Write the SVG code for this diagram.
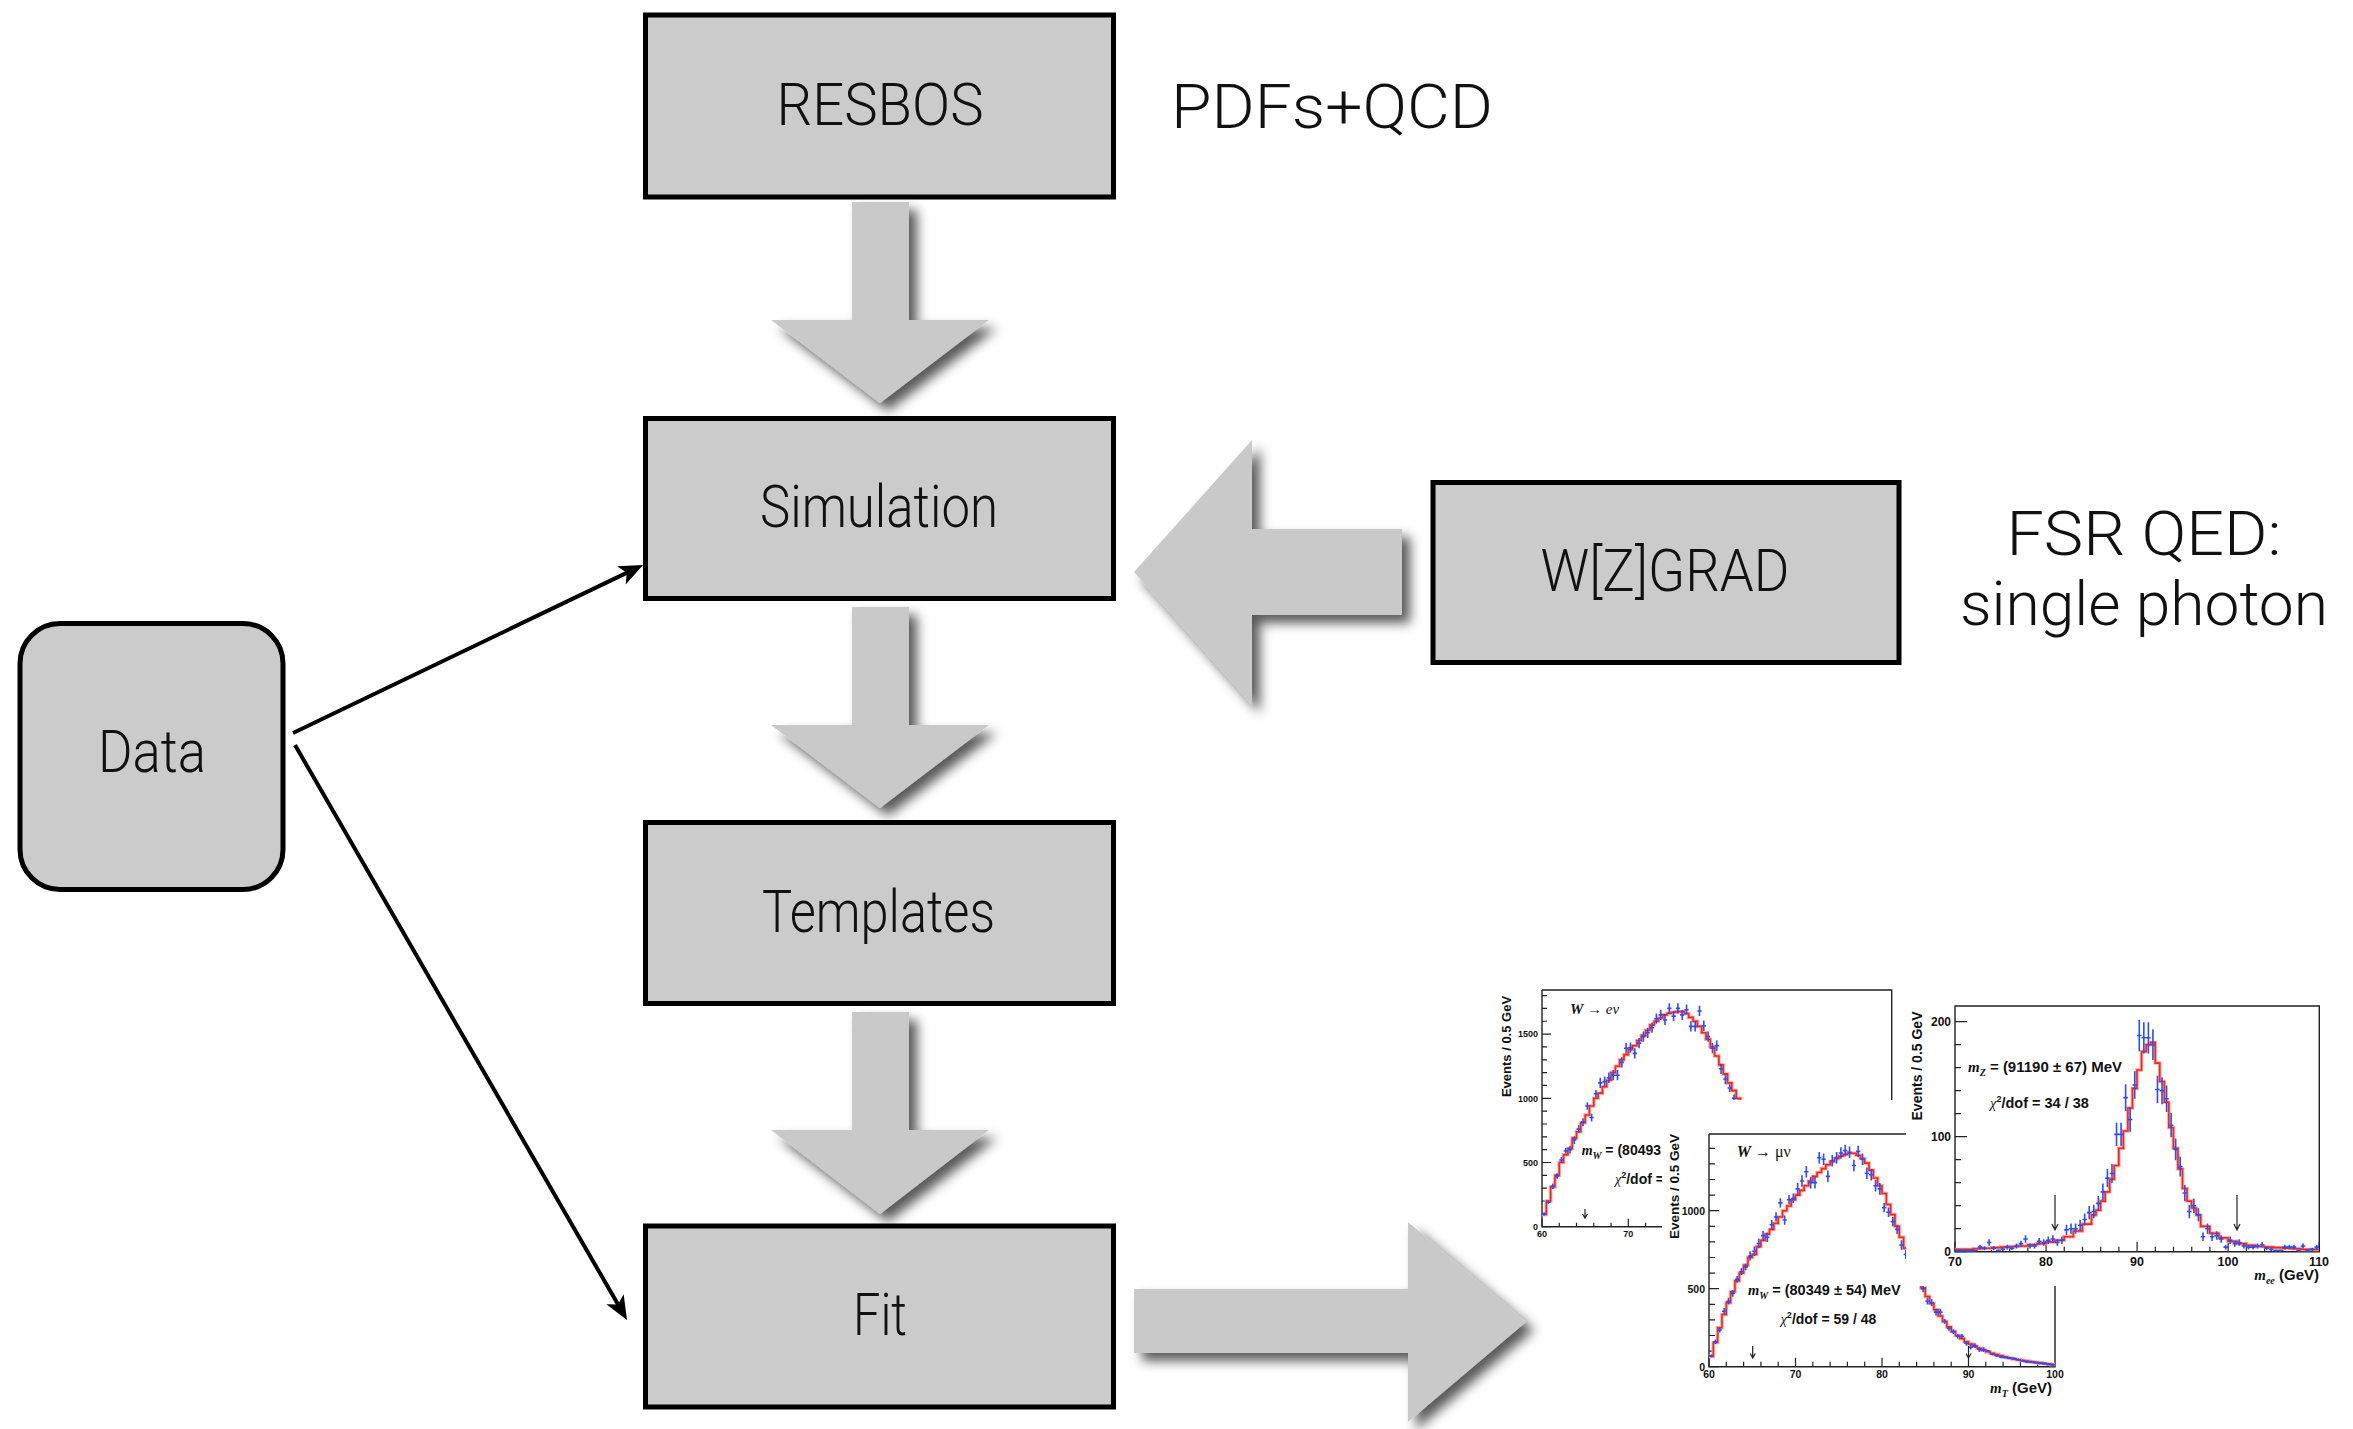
<svg xmlns="http://www.w3.org/2000/svg" width="2353" height="1429" viewBox="0 0 2353 1429">
  <defs>
    <style>
      .box { fill:#cbcbcb; stroke:#000; stroke-width:5; }
      .lbl { font-family:Roboto,'Liberation Sans',sans-serif; font-weight:300; font-size:60px; text-anchor:middle; fill:#111; }
      .side { font-family:Roboto,'Liberation Sans',sans-serif; font-weight:300; font-size:62px; fill:#111; }
      .blk { fill:#c9c9c9; filter:url(#shadow); }
      .conn { stroke:#000; stroke-width:4; fill:none; marker-end:url(#ah); }
      .ax { stroke:#222; stroke-width:1.4; fill:none; }
      .tk { stroke:#222; stroke-width:1.2; fill:none; }
      .halo { stroke:#ffa8a0; stroke-width:3.5; fill:none; vector-effect:non-scaling-stroke; }
      .hist { stroke:#f2261a; stroke-width:1.6; fill:none; vector-effect:non-scaling-stroke; }
      .pts { stroke:#2b4cff; stroke-width:1.6; fill:none; vector-effect:non-scaling-stroke; }
      .pt { font-family:'Liberation Sans',Arial,sans-serif; font-weight:bold; fill:#111; }
      .it { font-family:'Liberation Serif','Times New Roman',serif; font-style:italic; }
      .num { font-family:'Liberation Sans',Arial,sans-serif; font-weight:bold; fill:#111; }
    </style>
    <filter id="shadow" x="-20%" y="-20%" width="150%" height="150%">
      <feDropShadow dx="8" dy="8" stdDeviation="6" flood-color="#000" flood-opacity="0.65"/>
    </filter>
    <marker id="ah" markerUnits="userSpaceOnUse" markerWidth="40" markerHeight="40" refX="0" refY="0" orient="auto" overflow="visible">
      <path d="M6,0 L-18,-10 L-12,0 L-18,10 Z" fill="#000"/>
    </marker>
  </defs>

  <rect x="0" y="0" width="2353" height="1429" fill="#fff"/>

  <!-- result plots: W->e nu, W->mu nu, Z->ee -->
  <g id="plots">
    <!-- W -> e nu -->
    <g id="plot-wenu">
      <path class="ax" d="M1542 990V1226.7H1662M1542 990H1891.7V1101"/>
      <path class="tk" d="M1542 1226.7h9m-9-12.84h5m-5-12.84h5m-5-12.84h5m-5-12.84h5m-5-12.84h9m-9-12.84h5m-5-12.84h5m-5-12.84h5m-5-12.84h5m-5-12.84h9m-9-12.84h5m-5-12.84h5m-5-12.84h5m-5-12.84h5m-5-12.84h9m-9-12.84h5m-5-12.84h5m-5-12.84h5"/>
      <path class="tk" d="M1542 1226.7v-8m17.26 8v-4m17.26 4v-4m17.26 4v-4m17.26 4v-4m17.26 4v-8m17.26 8v-4m17.26 4v-4"/>
      <g transform="translate(1542,1226.7) scale(8.63,-0.1284)">
        <path class="halo" vector-effect="non-scaling-stroke" d="M0 95H.5V200H1V310H1.5V400H2V500H2.5V560H3V610H3.5V690H4V740H4.5V810H5V870H5.5V940H6V1000H6.5V1040H7V1090H7.5V1140H8V1200H8.5V1250H9V1300H9.5V1340H10V1380H10.5V1410H11V1450H11.5V1490H12V1530H12.5V1570H13V1600H13.5V1625H14V1650H14.5V1662H15V1670H15.5V1675H16.5V1660H17V1630H17.5V1600H18V1560H18.5V1510H19V1460H19.5V1400H20V1330H20.5V1260H21V1190H21.5V1120H22V1060H22.5V1000H23V940H23.5"/>
        <path class="hist" vector-effect="non-scaling-stroke" d="M0 95H.5V200H1V310H1.5V400H2V500H2.5V560H3V610H3.5V690H4V740H4.5V810H5V870H5.5V940H6V1000H6.5V1040H7V1090H7.5V1140H8V1200H8.5V1250H9V1300H9.5V1340H10V1380H10.5V1410H11V1450H11.5V1490H12V1530H12.5V1570H13V1600H13.5V1625H14V1650H14.5V1662H15V1670H15.5V1675H16.5V1660H17V1630H17.5V1600H18V1560H18.5V1510H19V1460H19.5V1400H20V1330H20.5V1260H21V1190H21.5V1120H22V1060H22.5V1000H23V940H23.5"/>
        <path class="pts" vector-effect="non-scaling-stroke" d="M.25 88v24M0 100h.5M.75 178v24M.5 190h.5M1.25 293v44M1 315h.5M1.75 373v44M1.5 395h.5M2.25 498v44M2 520h.5M2.75 568v44M2.5 590h.5M3.25 570v60M3 600h.5M3.75 645v60M3.5 675h.5M4.25 730v60M4 760h.5M4.75 785v60M4.5 815h.5M5.25 910v60M5 940h.5M5.75 820v60M5.5 850h.5M6.25 1005v60M6 1035h.5M6.75 1080v80M6.5 1120h.5M7.25 1090v80M7 1130h.5M7.75 1120v80M7.5 1160h.5M8.25 1140v80M8 1180h.5M8.75 1140v80M8.5 1180h.5M9.25 1240v80M9 1280h.5M9.75 1350v80M9.5 1390h.5M10.25 1355v80M10 1395h.5M10.75 1310v80M10.5 1350h.5M11.25 1390v80M11 1430h.5M11.75 1440v80M11.5 1480h.5M12.25 1470v80M12 1510h.5M12.75 1510v80M12.5 1550h.5M13.25 1580v80M13 1620h.5M13.75 1610v80M13.5 1650h.5M14.25 1570v80M14 1610h.5M14.75 1660v80M14.5 1700h.5M15.25 1600v80M15 1640h.5M15.75 1660v80M15.5 1700h.5M16.25 1610v80M16 1650h.5M16.75 1650v80M16.5 1690h.5M17.25 1520v80M17 1560h.5M17.75 1520v80M17.5 1560h.5M18.25 1640v80M18 1680h.5M18.75 1525v80M18.5 1565h.5M19.25 1440v80M19 1480h.5M19.75 1350v80M19.5 1390h.5M20.25 1370v80M20 1410h.5M20.75 1190v80M20.5 1230h.5M21.25 1110v80M21 1150h.5M21.75 1050v60M21.5 1080h.5M22.25 970v60M22 1000h.5M22.75 930v60M22.5 960h.5"/>
      </g>
      <g class="num" font-size="9" text-anchor="end">
        <text x="1538" y="1037">1500</text>
        <text x="1538" y="1101.5">1000</text>
        <text x="1538" y="1166">500</text>
        <text x="1538" y="1230">0</text>
      </g>
      <g class="num" font-size="9" text-anchor="middle">
        <text x="1542" y="1237">60</text>
        <text x="1628.3" y="1237">70</text>
      </g>
      <text class="pt" font-size="13" text-anchor="middle" transform="translate(1511,1046.5) rotate(-90)">Events / 0.5 GeV</text>
      <text x="1570" y="1014" font-size="15" class="it" fill="#111"><tspan font-weight="bold">W</tspan><tspan font-style="normal"> → </tspan><tspan>eν</tspan></text>
      <text x="1581.7" y="1155" class="pt" font-size="14"><tspan class="it">m</tspan><tspan class="it" font-size="10" dy="4">W</tspan><tspan dy="-4"> = (80493</tspan></text>
      <text x="1615" y="1184" class="pt" font-size="14"><tspan class="it" font-weight="normal">χ</tspan><tspan font-size="9" dy="-6">2</tspan><tspan dy="6">/dof =</tspan></text>
      <path class="tk" d="M1585 1209v9m-2.5-4l2.5 4 2.5-4"/>
    </g>

    <!-- W -> mu nu -->
    <g id="plot-wmunu">
      <rect x="1662" y="1100" width="420" height="329" fill="#fff"/>
      <path class="ax" d="M1709 1134V1366.7H2055V1134H1709"/>
      <path class="tk" d="M1709 1366.7h10m-10-15.6h6m-6-15.6h6m-6-15.6h6m-6-15.6h6m-6-15.6h10m-10-15.6h6m-6-15.6h6m-6-15.6h6m-6-15.6h6m-6-15.6h10m-10-15.6h6m-6-15.6h6m-6-15.6h6m-6-15.6h6"/>
      <path class="tk" d="M1709 1366.7v-9m17.3 9v-5m17.3 5v-5m17.3 5v-5m17.3 5v-5m17.3 5v-9m17.3 9v-5m17.3 5v-5m17.3 5v-5m17.3 5v-5m17.3 5v-9m17.3 9v-5m17.3 5v-5m17.3 5v-5m17.3 5v-5m17.3 5v-9m17.3 9v-5m17.3 5v-5m17.3 5v-5m17.3 5v-5"/>
      <g transform="translate(1709,1366.7) scale(8.65,-0.156)">
        <path class="halo" vector-effect="non-scaling-stroke" d="M0 65H.5V155H1V250H1.5V335H2V410H2.5V480H3V550H3.5V600H4V650H4.5V700H5V720H5.5V770H6V810H6.5V850H7V880H7.5V920H8V960H8.5V1000H9V1030H9.5V1070H10V1100H10.5V1130H11V1160H11.5V1190H12V1220H12.5V1245H13V1270H13.5V1295H14V1315H14.5V1335H15V1350H15.5V1360H16V1368H17V1355H17.5V1335H18V1305H18.5V1260H19V1210H19.5V1160H20V1110H20.5V1040H21V975H21.5V900H22V830H22.5V760H23V700H23.5V630H24V560H24.5V505H25V450H25.5V405H26V365H26.5V325H27V290H27.5V255H28V225H28.5V200H29V180H29.5V160H30V145H30.5V130H31V118H31.5V106H32V96H32.5V86H33V78H33.5V70H34V62H34.5V56H35V50H35.5V45H36V40H36.5V36H37V32H37.5V28H38V25H38.5V21H39V18H39.5V14H40"/>
        <path class="hist" vector-effect="non-scaling-stroke" d="M0 65H.5V155H1V250H1.5V335H2V410H2.5V480H3V550H3.5V600H4V650H4.5V700H5V720H5.5V770H6V810H6.5V850H7V880H7.5V920H8V960H8.5V1000H9V1030H9.5V1070H10V1100H10.5V1130H11V1160H11.5V1190H12V1220H12.5V1245H13V1270H13.5V1295H14V1315H14.5V1335H15V1350H15.5V1360H16V1368H17V1355H17.5V1335H18V1305H18.5V1260H19V1210H19.5V1160H20V1110H20.5V1040H21V975H21.5V900H22V830H22.5V760H23V700H23.5V630H24V560H24.5V505H25V450H25.5V405H26V365H26.5V325H27V290H27.5V255H28V225H28.5V200H29V180H29.5V160H30V145H30.5V130H31V118H31.5V106H32V96H32.5V86H33V78H33.5V70H34V62H34.5V56H35V50H35.5V45H36V40H36.5V36H37V32H37.5V28H38V25H38.5V21H39V18H39.5V14H40"/>
        <path class="pts" vector-effect="non-scaling-stroke" d="M.25 62v16M0 70h.5M.75 145v30M.5 160h.5M1.25 220v30M1 235h.5M1.75 333v44M1.5 355h.5M2.25 398v44M2 420h.5M2.75 448v44M2.5 470h.5M3.25 538v44M3 560h.5M3.75 588v44M3.5 610h.5M4.25 618v44M4 640h.5M4.75 680v60M4.5 710h.5M5.25 710v60M5 740h.5M5.75 760v60M5.5 790h.5M6.25 810v60M6 840h.5M6.75 800v60M6.5 830h.5M7.25 880v60M7 910h.5M7.75 930v60M7.5 960h.5M8.25 1020v60M8 1050h.5M8.75 910v60M8.5 940h.5M9.25 1040v60M9 1070h.5M9.75 1050v60M9.5 1080h.5M10.25 1103v74M10 1140h.5M10.75 1153v74M10.5 1190h.5M11.25 1213v74M11 1250h.5M11.75 1143v74M11.5 1180h.5M12.25 1143v74M12 1180h.5M12.75 1303v74M12.5 1340h.5M13.25 1293v74M13 1330h.5M13.75 1183v74M13.5 1220h.5M14.25 1283v74M14 1320h.5M14.75 1303v74M14.5 1340h.5M15.25 1333v74M15 1370h.5M15.75 1348v74M15.5 1385h.5M16.25 1338v74M16 1375h.5M16.75 1253v74M16.5 1290h.5M17.25 1343v74M17 1380h.5M17.75 1293v74M17.5 1330h.5M18.25 1203v74M18 1240h.5M18.75 1193v74M18.5 1230h.5M19.25 1123v74M19 1160h.5M19.75 1103v74M19.5 1140h.5M20.25 990v60M20 1020h.5M20.75 960v60M20.5 990h.5M21.25 900v60M21 930h.5M21.75 850v60M21.5 880h.5M22.25 750v60M22 780h.5M22.75 690v60M22.5 720h.5M23.25 628v44M23 650h.5M23.75 578v44M23.5 600h.5M24.25 518v44M24 540h.5M24.75 478v44M24.5 500h.5M25.25 398v44M25 420h.5M25.75 388v44M25.5 410h.5M26.25 328v44M26 350h.5M26.75 328v44M26.5 350h.5M27.25 275v30M27 290h.5M27.75 230v30M27.5 245h.5M28.25 210v30M28 225h.5M28.75 180v30M28.5 195h.5M29.25 180v30M29 195h.5M29.75 135v30M29.5 150h.5M30.25 110v30M30 125h.5M30.75 120v30M30.5 135h.5M31.25 95v30M31 110h.5M31.75 95v30M31.5 110h.5M32.25 92v16M32 100h.5M32.75 72v16M32.5 80h.5M33.25 62v16M33 70h.5M33.75 54v16M33.5 62h.5M34.25 52v16M34 60h.5M34.75 47v16M34.5 55h.5M35.25 44v16M35 52h.5M35.75 37v16M35.5 45h.5M36.25 30v16M36 38h.5M36.75 22v16M36.5 30h.5M37.25 22v16M37 30h.5M37.75 18v16M37.5 26h.5M38.25 14v16M38 22h.5M38.75 12v16M38.5 20h.5M39.25 7v16M39 15h.5M39.75 4v16M39.5 12h.5"/>
      </g>
      <g class="num" font-size="10.5" text-anchor="end">
        <text x="1705" y="1214.5">1000</text>
        <text x="1705" y="1292.5">500</text>
        <text x="1705" y="1370.5">0</text>
      </g>
      <g class="num" font-size="10.5" text-anchor="middle">
        <text x="1709" y="1378">60</text>
        <text x="1795.5" y="1378">70</text>
        <text x="1882" y="1378">80</text>
        <text x="1968.5" y="1378">90</text>
        <text x="2055" y="1378">100</text>
      </g>
      <text class="pt" font-size="13.5" text-anchor="middle" transform="translate(1678.5,1186.5) rotate(-90)">Events / 0.5 GeV</text>
      <text x="1736.7" y="1157" font-size="16" class="it" fill="#111"><tspan font-weight="bold">W</tspan><tspan font-style="normal"> → μν</tspan></text>
      <text x="1748" y="1295" class="pt" font-size="14.5"><tspan class="it">m</tspan><tspan class="it" font-size="10" dy="4">W</tspan><tspan dy="-4"> = (80349 ± 54) MeV</tspan></text>
      <text x="1780.7" y="1324" class="pt" font-size="14"><tspan class="it" font-weight="normal">χ</tspan><tspan font-size="9" dy="-6">2</tspan><tspan dy="6">/dof = 59 / 48</tspan></text>
      <text x="2052" y="1393" class="pt" font-size="15" text-anchor="end"><tspan class="it">m</tspan><tspan class="it" font-size="10" dy="4">T</tspan><tspan dy="-4"> (GeV)</tspan></text>
      <path class="tk" d="M1752.7 1346v12m-2.5-4.5l2.5 4.5 2.5-4.5M1968.5 1346v12m-2.5-4.5l2.5 4.5 2.5-4.5"/>
    </g>

    <!-- Z -> ee -->
    <g id="plot-zee">
      <rect x="1906" y="980" width="447" height="306" fill="#fff"/>
      <path class="ax" d="M1955 1006V1251.7H2319.3V1006Z"/>
      <path class="tk" d="M1955 1251.7h12m-12-23h6m-6-23h6m-6-23h6m-6-23h6m-6-23h12m-12-23h6m-6-23h6m-6-23h6m-6-23h6m-6-23h12"/>
      <path class="tk" d="M1955 1251.7v-10m18.21 10v-5m18.21 5v-5m18.21 5v-5m18.21 5v-5m18.21 5v-10m18.21 10v-5m18.21 5v-5m18.21 5v-5m18.21 5v-5m18.21 5v-10m18.21 10v-5m18.21 5v-5m18.21 5v-5m18.21 5v-5m18.21 5v-10m18.21 10v-5m18.21 5v-5m18.21 5v-5m18.21 5v-5m18.21 5v-10"/>
      <g transform="translate(1955,1251.7) scale(9.1,-1.15)">
        <path class="halo" vector-effect="non-scaling-stroke" d="M0 2H2V2.5H3V3H4V3.5H5V4H6V4.5H7V5H8V6H9V7H10V8.5H11V10H12V13H13V18H14V24H15V32H15.5V36H16V44H16.5V52H17V63H17.5V75H18V90H18.5V105H19V125H19.5V142H20V158H20.5V174H21V180H21.5V182H22V164H22.5V148H23V130H23.5V108H24V90H24.5V72H25V55H25.5V44H26V38H26.5V32H27V22H28V16H29V12H30V9H31V7H32V5.5H33V4.5H34V4H35V3.5H36V3H37V2.5H38V2H40"/>
        <path class="hist" vector-effect="non-scaling-stroke" d="M0 2H2V2.5H3V3H4V3.5H5V4H6V4.5H7V5H8V6H9V7H10V8.5H11V10H12V13H13V18H14V24H15V32H15.5V36H16V44H16.5V52H17V63H17.5V75H18V90H18.5V105H19V125H19.5V142H20V158H20.5V174H21V180H21.5V182H22V164H22.5V148H23V130H23.5V108H24V90H24.5V72H25V55H25.5V44H26V38H26.5V32H27V22H28V16H29V12H30V9H31V7H32V5.5H33V4.5H34V4H35V3.5H36V3H37V2.5H38V2H40"/>
        <path class="pts" vector-effect="non-scaling-stroke" d="M.25 0v2M0 1h.5M.75 0v2M.5 1h.5M1.25 0v2M1 1h.5M1.75 0v2M1.5 1h.5M2.25 0v2M2 1h.5M2.75 2v4M2.5 4h.5M3.25 1.3v3.4M3 3h.5M3.75 5.2v5.6M3.5 8h.5M4.25 1.3v3.4M4 3h.5M4.75 0v2M4.5 1h.5M5.25 .5v3M5 2h.5M5.75 2v4M5.5 4h.5M6.25 1.3v3.4M6 3h.5M6.75 2.8v4.4M6.5 5h.5M7.25 4.4v5.2M7 7h.5M7.75 7.7v6.6M7.5 11h.5M8.25 2.8v4.4M8 5h.5M8.75 2.8v4.4M8.5 5h.5M9.25 6v6M9 9h.5M9.75 5.2v5.6M9.5 8h.5M10.25 6.8v6.4M10 10h.5M10.75 7.7v6.6M10.5 11h.5M11.25 5.2v5.6M11 8h.5M11.75 6.8v6.4M11.5 10h.5M12.25 14.6v8.8M12 19h.5M12.75 15.5v9M12.5 20h.5M13.25 15.5v9M13 20h.5M13.75 18.2v9.6M13.5 23h.5M14.25 22.7v10.6M14 28h.5M14.75 28.2v11.6M14.5 34h.5M15.25 29.1v11.8M15 35h.5M15.75 35.5v13M15.5 42h.5M16.25 44.8v14.4M16 52h.5M16.75 56v16M16.5 64h.5M17.25 59.8v16.4M17 68h.5M17.75 91.9v20.2M17.5 102h.5M18.25 91.9v20.2M18 102h.5M18.75 122.4v23.2M18.5 134h.5M19.25 104.3v21.4M19 115h.5M19.75 133v24M19.5 145h.5M20.25 174.3v27.4M20 188h.5M20.75 172.4v27.2M20.5 186h.5M21.25 172.4v27.2M21 186h.5M21.75 166.6v26.8M21.5 180h.5M22.25 129.1v23.8M22 141h.5M22.75 128.2v23.6M22.5 140h.5M23.25 121.5v23M23 133h.5M23.75 99.5v21M23.5 110h.5M24.25 79.6v18.8M24 89h.5M24.75 65.4v17.2M24.5 74h.5M25.25 43.9v14.2M25 51h.5M25.75 29.1v11.8M25.5 35h.5M26.25 33.7v12.6M26 40h.5M26.75 26.3v11.4M26.5 32h.5M27.25 9.4v7.2M27 13h.5M27.75 15.5v9M27.5 20h.5M28.25 9.4v7.2M28 13h.5M28.75 10.3v7.4M28.5 14h.5M29.25 7.7v6.6M29 11h.5M29.75 2v4M29.5 4h.5M30.25 6.8v6.4M30 10h.5M30.75 4.4v5.2M30.5 7h.5M31.25 5.2v5.6M31 8h.5M31.75 2.8v4.4M31.5 5h.5M32.25 2v4M32 4h.5M32.75 2v4M32.5 4h.5M33.25 2.8v4.4M33 5h.5M33.75 3.6v4.8M33.5 6h.5M34.25 1.3v3.4M34 3h.5M34.75 .5v3M34.5 2h.5M35.25 0v2M35 1h.5M35.75 0v2M35.5 1h.5M36.25 2v4M36 4h.5M36.75 2v4M36.5 4h.5M37.25 2v4M37 4h.5M37.75 0v2M37.5 1h.5M38.25 2.8v4.4M38 5h.5M38.75 0v2M38.5 1h.5M39.25 .5v3M39 2h.5M39.75 2v4M39.5 4h.5"/>
      </g>
      <g class="num" font-size="12" text-anchor="end">
        <text x="1951" y="1026">200</text>
        <text x="1951" y="1141">100</text>
        <text x="1951" y="1256">0</text>
      </g>
      <g class="num" font-size="12.5" text-anchor="middle">
        <text x="1955" y="1266">70</text>
        <text x="2046" y="1266">80</text>
        <text x="2137" y="1266">90</text>
        <text x="2228" y="1266">100</text>
        <text x="2319" y="1266">110</text>
      </g>
      <text class="pt" font-size="14" text-anchor="middle" transform="translate(1922,1066) rotate(-90)">Events / 0.5 GeV</text>
      <text x="1968" y="1072" class="pt" font-size="15"><tspan class="it">m</tspan><tspan class="it" font-size="10" dy="4">Z</tspan><tspan dy="-4"> = (91190 ± 67) MeV</tspan></text>
      <text x="1990" y="1108" class="pt" font-size="14.5"><tspan class="it" font-weight="normal">χ</tspan><tspan font-size="9" dy="-6">2</tspan><tspan dy="6">/dof = 34 / 38</tspan></text>
      <text x="2319" y="1280" class="pt" font-size="15" text-anchor="end"><tspan class="it">m</tspan><tspan class="it" font-size="10" dy="4">ee</tspan><tspan dy="-4"> (GeV)</tspan></text>
      <path class="tk" d="M2055 1195v35m-3-6l3 6 3-6M2237 1195v35m-3-6l3 6 3-6"/>
    </g>
  </g>

  <!-- connectors: block arrows and data lines -->
  <g id="connectors">
    <polygon class="blk" points="852,202 909,202 909,320 989,320 880,403 771,320 852,320"/>
    <polygon class="blk" points="852,607 909,607 909,725 989,725 880,808 771,725 852,725"/>
    <polygon class="blk" points="852,1012 909,1012 909,1130 989,1130 880,1214 771,1130 852,1130"/>
    <polygon class="blk" points="1402,529 1252,529 1252,440 1134,572 1252,705 1252,615 1402,615"/>
    <polygon class="blk" points="1134,1289 1408,1289 1408,1222 1526,1322 1408,1422 1408,1353 1134,1353"/>
    <line class="conn" x1="293" y1="733" x2="637.6" y2="567.6"/>
    <line class="conn" x1="295" y1="745" x2="624" y2="1314.8"/>
  </g>

  <!-- nodes -->
  <g id="node-resbos">
    <rect class="box" x="645.5" y="15" width="468" height="182"/>
    <text class="lbl" x="880" y="125" textLength="207" lengthAdjust="spacingAndGlyphs">RESBOS</text>
  </g>
  <g id="node-simulation">
    <rect class="box" x="645.5" y="418.5" width="468" height="180"/>
    <text class="lbl" x="879" y="527" textLength="238" lengthAdjust="spacingAndGlyphs">Simulation</text>
  </g>
  <g id="node-templates">
    <rect class="box" x="645.5" y="822.5" width="468" height="181"/>
    <text class="lbl" x="878.5" y="932" textLength="233" lengthAdjust="spacingAndGlyphs">Templates</text>
  </g>
  <g id="node-fit">
    <rect class="box" x="645.5" y="1226" width="468" height="181"/>
    <text class="lbl" x="880" y="1335" textLength="54" lengthAdjust="spacingAndGlyphs">Fit</text>
  </g>
  <g id="node-wzgrad">
    <rect class="box" x="1433" y="482.5" width="466" height="180"/>
    <text class="lbl" x="1665" y="591" textLength="249" lengthAdjust="spacingAndGlyphs">W[Z]GRAD</text>
  </g>
  <g id="node-data">
    <rect class="box" x="20" y="623.5" width="263" height="266" rx="40" ry="40"/>
    <text class="lbl" x="152" y="772" textLength="108" lengthAdjust="spacingAndGlyphs">Data</text>
  </g>

  <!-- side notes -->
  <g id="notes">
    <text class="side" x="1171" y="128" textLength="322" lengthAdjust="spacingAndGlyphs">PDFs+QCD</text>
    <text class="side" x="2144" y="555" text-anchor="middle" textLength="275" lengthAdjust="spacingAndGlyphs">FSR QED:</text>
    <text class="side" x="2144" y="625" text-anchor="middle" textLength="368" lengthAdjust="spacingAndGlyphs">single photon</text>
  </g>
</svg>
